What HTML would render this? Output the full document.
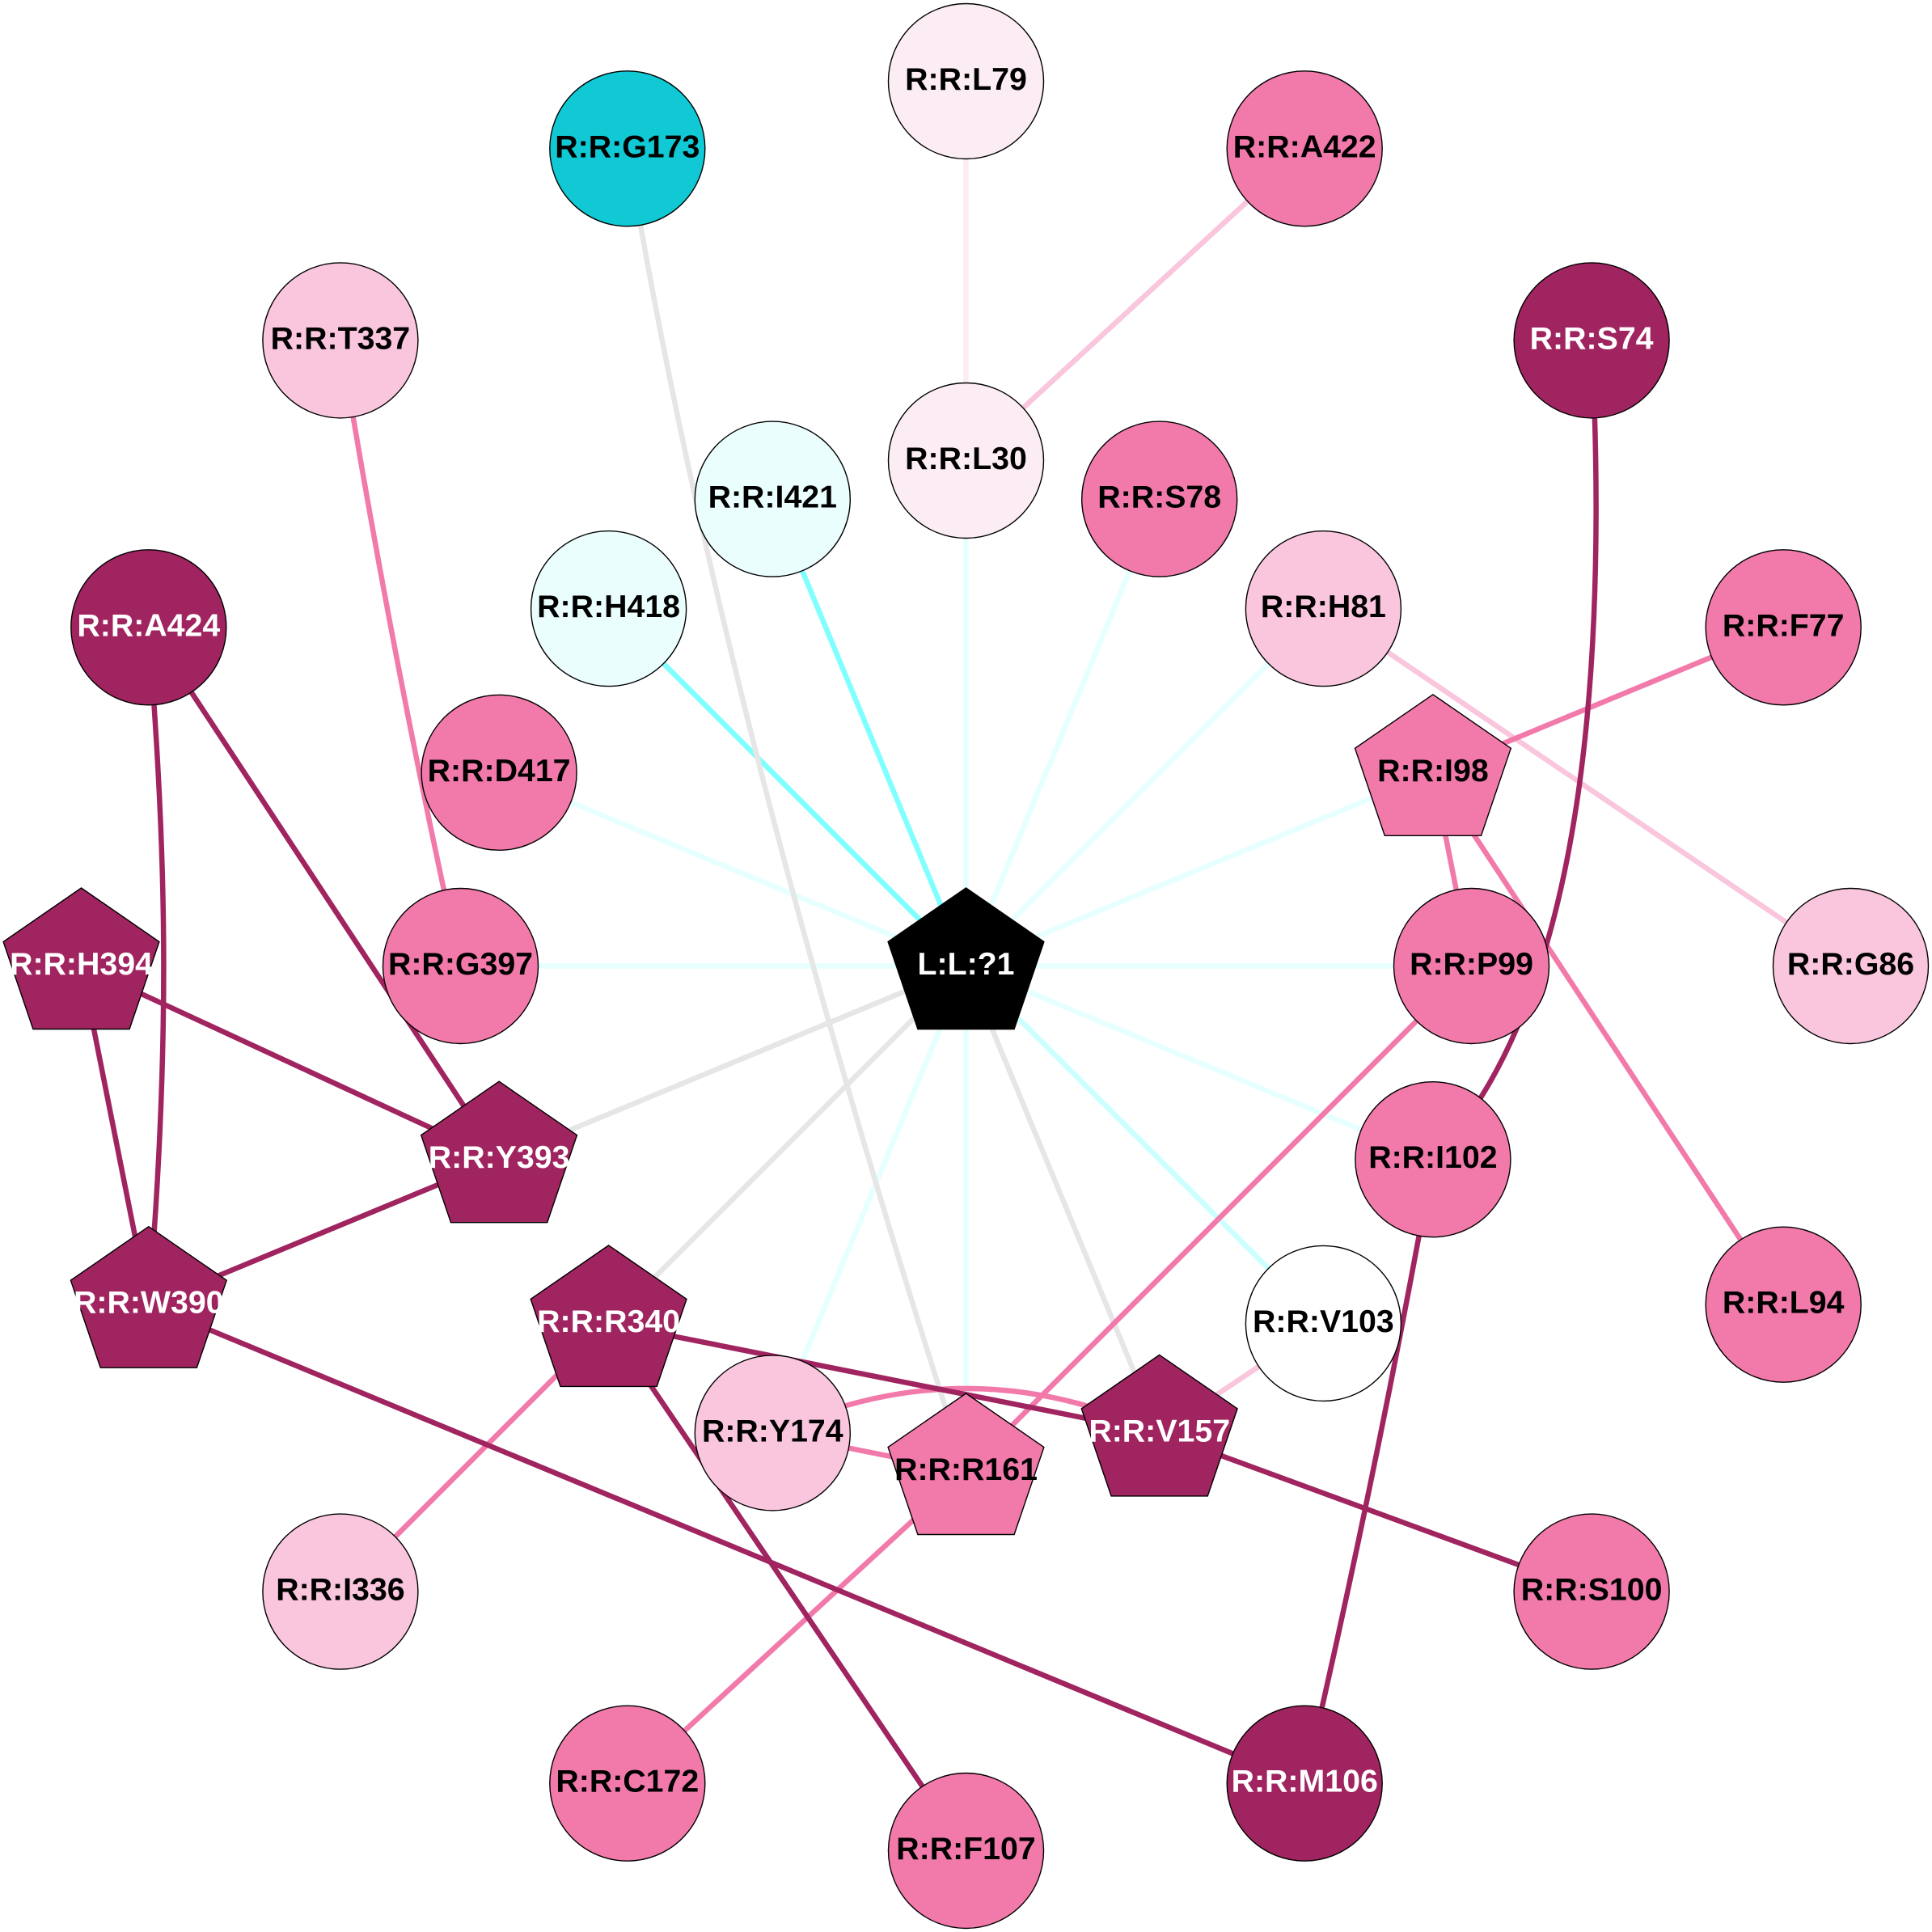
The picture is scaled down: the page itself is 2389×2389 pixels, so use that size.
<!DOCTYPE html>
<html>
<head>
<meta charset="utf-8">
<title>Network</title>
<style>
html,body{margin:0;padding:0;background:#fff;width:2389px;height:2389px;overflow:hidden}
svg{display:block}
.e{fill:none;stroke-width:6.5}
.cp{stroke:#e6ffff}.cm{stroke:#ccffff}.cs{stroke:#80ffff}.g{stroke:#e6e6e6}
.v{stroke:#fcedf4}.l{stroke:#f9c6dd}.p{stroke:#f27aab}.d{stroke:#a0245f}
.n{stroke:#000;stroke-width:1.4}
.fv{fill:#fcedf4}.fc{fill:#10c9d4}.fa{fill:#e9fefd}.fl{fill:#f9c6dd}.fp{fill:#f27aab}.fd{fill:#a0245f}.fw{fill:#fff}.fk{fill:#000}
text{font-family:"Liberation Sans",Arial,sans-serif;font-weight:bold;font-size:39.3px;text-anchor:middle;stroke:none}
.tb{fill:#000}.tw{fill:#fff}
</style>
</head>
<body>
<svg xmlns="http://www.w3.org/2000/svg" width="2389" height="2389" viewBox="0 0 2389 2389">
<rect width="2389" height="2389" fill="#fff"/>
<!-- edges from ligand -->
<g class="e">
<line class="e cp" x1="1194.5" y1="1194.5" x2="1194.5" y2="569.5"/>
<line class="e cp" x1="1194.5" y1="1194.5" x2="1433.7" y2="617.1"/>
<line class="e cp" x1="1194.5" y1="1194.5" x2="1636.4" y2="752.6"/>
<line class="e cp" x1="1194.5" y1="1194.5" x2="1771.9" y2="955.3"/>
<line class="e cp" x1="1194.5" y1="1194.5" x2="1819.5" y2="1194.5"/>
<line class="e cp" x1="1194.5" y1="1194.5" x2="1771.9" y2="1433.7"/>
<line class="e cm" x1="1194.5" y1="1194.5" x2="1636.4" y2="1636.4"/>
<line class="e g" x1="1194.5" y1="1194.5" x2="1433.7" y2="1771.9"/>
<line class="e cp" x1="1194.5" y1="1194.5" x2="1194.5" y2="1819.5"/>
<line class="e cp" x1="1194.5" y1="1194.5" x2="955.3" y2="1771.9"/>
<line class="e g" x1="1194.5" y1="1194.5" x2="752.6" y2="1636.4"/>
<line class="e g" x1="1194.5" y1="1194.5" x2="617.1" y2="1433.7"/>
<line class="e cp" x1="1194.5" y1="1194.5" x2="569.5" y2="1194.5"/>
<line class="e cp" x1="1194.5" y1="1194.5" x2="617.1" y2="955.3"/>
<line class="e cs" x1="1194.5" y1="1194.5" x2="752.6" y2="752.6"/>
<line class="e cs" x1="1194.5" y1="1194.5" x2="955.3" y2="617.1"/>
<!-- other edges -->
<path class="e g" d="M775.8 183.8Q890 880 1194.5 1819.5"/>
<line class="e v" x1="1194.5" y1="100.5" x2="1194.5" y2="569.5"/>
<line class="e l" x1="1613.2" y1="183.8" x2="1194.5" y2="569.5"/>
<path class="e p" d="M420.9 420.9Q485 815 569.5 1194.5"/>
<line class="e l" x1="1636.4" y1="752.6" x2="2288.5" y2="1194.5"/>
<line class="e p" x1="2205.2" y1="775.8" x2="1771.9" y2="955.3"/>
<line class="e p" x1="1771.9" y1="955.3" x2="1819.5" y2="1194.5"/>
<line class="e p" x1="1771.9" y1="955.3" x2="2205.2" y2="1613.2"/>
<line class="e p" x1="1819.5" y1="1194.5" x2="1194.5" y2="1819.5"/>
<line class="e p" x1="1194.5" y1="1819.5" x2="775.8" y2="2205.2"/>
<line class="e p" x1="752.6" y1="1636.4" x2="420.9" y2="1968.1"/>
<line class="e p" x1="955.3" y1="1771.9" x2="1194.5" y2="1819.5"/>
<path class="e p" d="M955.3 1771.9Q1194.5 1662 1433.7 1771.9"/>
<line class="e l" x1="1636.4" y1="1636.4" x2="1433.7" y2="1771.9"/>
<path class="e d" d="M1968.1 420.9Q2007 1190 1771.9 1433.7"/>
<path class="e d" d="M1771.9 1433.7Q1702.5 1821 1613.2 2205.2"/>
<path class="e d" d="M183.8 775.8C200 1000 216 1230 183.8 1613.2"/>
<line class="e d" x1="183.8" y1="775.8" x2="617.1" y2="1433.7"/>
<line class="e d" x1="100.5" y1="1194.5" x2="617.1" y2="1433.7"/>
<line class="e d" x1="100.5" y1="1194.5" x2="183.8" y2="1613.2"/>
<line class="e d" x1="617.1" y1="1433.7" x2="183.8" y2="1613.2"/>
<line class="e d" x1="183.8" y1="1613.2" x2="1613.2" y2="2205.2"/>
<line class="e d" x1="752.6" y1="1636.4" x2="1433.7" y2="1771.9"/>
<line class="e d" x1="1433.7" y1="1771.9" x2="1968.1" y2="1968.1"/>
<line class="e d" x1="752.6" y1="1636.4" x2="1194.5" y2="2288.5"/>
</g>
<!-- nodes -->
<g transform="translate(1194.5 100.5)"><circle class="n fv" r="96"/><text class="tb" y="10.5">R:R:L79</text></g>
<g transform="translate(1613.2 183.8)"><circle class="n fp" r="96"/><text class="tb" y="10.5">R:R:A422</text></g>
<g transform="translate(775.8 183.8)"><circle class="n fc" r="96"/><text class="tb" y="10.5">R:R:G173</text></g>
<g transform="translate(420.9 420.9)"><circle class="n fl" r="96"/><text class="tb" y="10.5">R:R:T337</text></g>
<g transform="translate(1968.1 420.9)"><circle class="n fd" r="96"/><text class="tw" y="10.5">R:R:S74</text></g>
<g transform="translate(183.8 775.8)"><circle class="n fd" r="96"/><text class="tw" y="10.5">R:R:A424</text></g>
<g transform="translate(2205.2 775.8)"><circle class="n fp" r="96"/><text class="tb" y="10.5">R:R:F77</text></g>
<g transform="translate(2288.5 1194.5)"><circle class="n fl" r="96"/><text class="tb" y="10.5">R:R:G86</text></g>
<g transform="translate(2205.2 1613.2)"><circle class="n fp" r="96"/><text class="tb" y="10.5">R:R:L94</text></g>
<g transform="translate(420.9 1968.1)"><circle class="n fl" r="96"/><text class="tb" y="10.5">R:R:I336</text></g>
<g transform="translate(1968.1 1968.1)"><circle class="n fp" r="96"/><text class="tb" y="10.5">R:R:S100</text></g>
<g transform="translate(775.8 2205.2)"><circle class="n fp" r="96"/><text class="tb" y="10.5">R:R:C172</text></g>
<g transform="translate(1613.2 2205.2)"><circle class="n fd" r="96"/><text class="tw" y="10.5">R:R:M106</text></g>
<g transform="translate(1194.5 2288.5)"><circle class="n fp" r="96"/><text class="tb" y="10.5">R:R:F107</text></g>
<g transform="translate(1194.5 569.5)"><circle class="n fv" r="96"/><text class="tb" y="10.5">R:R:L30</text></g>
<g transform="translate(955.3 617.1)"><circle class="n fa" r="96"/><text class="tb" y="10.5">R:R:I421</text></g>
<g transform="translate(1433.7 617.1)"><circle class="n fp" r="96"/><text class="tb" y="10.5">R:R:S78</text></g>
<g transform="translate(752.6 752.6)"><circle class="n fa" r="96"/><text class="tb" y="10.5">R:R:H418</text></g>
<g transform="translate(1636.4 752.6)"><circle class="n fl" r="96"/><text class="tb" y="10.5">R:R:H81</text></g>
<g transform="translate(617.1 955.3)"><circle class="n fp" r="96"/><text class="tb" y="10.5">R:R:D417</text></g>
<g transform="translate(569.5 1194.5)"><circle class="n fp" r="96"/><text class="tb" y="10.5">R:R:G397</text></g>
<g transform="translate(1819.5 1194.5)"><circle class="n fp" r="96"/><text class="tb" y="10.5">R:R:P99</text></g>
<g transform="translate(1771.9 1433.7)"><circle class="n fp" r="96"/><text class="tb" y="10.5">R:R:I102</text></g>
<g transform="translate(1636.4 1636.4)"><circle class="n fw" r="96"/><text class="tb" y="10.5">R:R:V103</text></g>
<g transform="translate(955.3 1771.9)"><circle class="n fl" r="96"/><text class="tb" y="10.5">R:R:Y174</text></g>
<g transform="translate(1771.9 955.3)"><polygon class="n fp" points="0,-96.5 96.4,-30 59.6,78 -59.6,78 -96.4,-30"/><text class="tb" y="10.5">R:R:I98</text></g>
<g transform="translate(100.5 1194.5)"><polygon class="n fd" points="0,-96.5 96.4,-30 59.6,78 -59.6,78 -96.4,-30"/><text class="tw" y="10.5">R:R:H394</text></g>
<g transform="translate(617.1 1433.7)"><polygon class="n fd" points="0,-96.5 96.4,-30 59.6,78 -59.6,78 -96.4,-30"/><text class="tw" y="10.5">R:R:Y393</text></g>
<g transform="translate(183.8 1613.2)"><polygon class="n fd" points="0,-96.5 96.4,-30 59.6,78 -59.6,78 -96.4,-30"/><text class="tw" y="10.5">R:R:W390</text></g>
<g transform="translate(752.6 1636.4)"><polygon class="n fd" points="0,-96.5 96.4,-30 59.6,78 -59.6,78 -96.4,-30"/><text class="tw" y="10.5">R:R:R340</text></g>
<g transform="translate(1433.7 1771.9)"><polygon class="n fd" points="0,-96.5 96.4,-30 59.6,78 -59.6,78 -96.4,-30"/><text class="tw" y="10.5">R:R:V157</text></g>
<g transform="translate(1194.5 1819.5)"><polygon class="n fp" points="0,-96.5 96.4,-30 59.6,78 -59.6,78 -96.4,-30"/><text class="tb" y="10.5">R:R:R161</text></g>
<g transform="translate(1194.5 1194.5)"><polygon class="n fk" points="0,-96.5 96.4,-30 59.6,78 -59.6,78 -96.4,-30"/><text class="tw" y="10.5">L:L:?1</text></g>
</svg>
</body>
</html>
